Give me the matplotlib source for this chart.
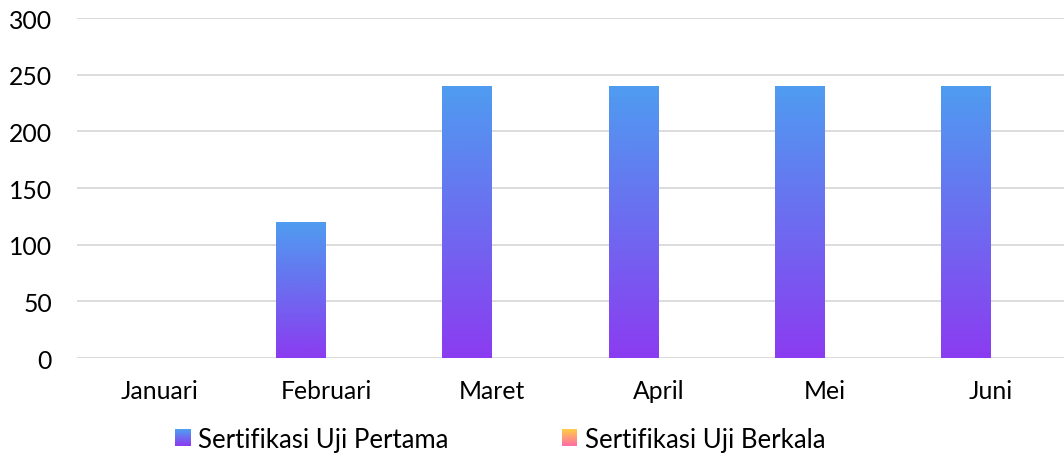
import numpy as np
import matplotlib.pyplot as plt
from matplotlib.colors import LinearSegmentedColormap, to_rgb
from matplotlib.patches import Rectangle
from matplotlib.legend_handler import HandlerBase

plt.rcParams['font.family'] = ['Lato', 'DejaVu Sans']

# data
bulan = ['Januari', 'Februari', 'Maret', 'April', 'Mei', 'Juni']
uji_pertama = [0, 120, 240, 240, 240, 240]
uji_berkala = [0, 0, 0, 0, 0, 0]
label_seri = ['Sertifikasi Uji Pertama', 'Sertifikasi Uji Berkala']
yticks = [0, 50, 100, 150, 200, 250, 300]

# warna gradien (atas, bawah)
grad_pertama = ('#4f9cf0', '#8b3cf0')
grad_berkala = ('#ffc94a', '#ff6fa3')


def isi_gradien(ax, bars, warna):
    # gambar gradien vertikal di dalam tiap batang
    cmap = LinearSegmentedColormap.from_list('g', [warna[1], warna[0]])
    grad = np.linspace(0, 1, 256).reshape(-1, 1)
    for b in bars:
        b.set_facecolor('none')
        h = b.get_height()
        if h <= 0:
            continue
        x0 = b.get_x()
        im = ax.imshow(grad, cmap=cmap, origin='lower', aspect='auto',
                       extent=[x0, x0 + b.get_width(), 0, h], zorder=3)
        im.set_clip_path(b)


class HandlerGradien(HandlerBase):
    def __init__(self, warna, n=30):
        super().__init__()
        self.warna = warna
        self.n = n

    def create_artists(self, legend, orig_handle, xdescent, ydescent,
                       width, height, fontsize, trans):
        atas = np.array(to_rgb(self.warna[0]))
        bawah = np.array(to_rgb(self.warna[1]))
        artists = []
        dh = height / self.n
        for i in range(self.n):
            t = i / (self.n - 1)
            c = bawah * (1 - t) + atas * t
            r = Rectangle((-xdescent, -ydescent + i * dh), width, dh * 1.05,
                          facecolor=c, edgecolor='none', transform=trans)
            artists.append(r)
        return artists


fig = plt.figure(figsize=(10.64, 4.56), dpi=100)
# area plot sedikit melewati tepi kanan gambar, seperti aslinya
ax = fig.add_axes([0.0723, 0.2127, 0.937, 0.7456])

x = np.arange(len(bulan))
lebar = 0.3
bar1 = ax.bar(x - lebar / 2, uji_pertama, lebar, zorder=3)
bar2 = ax.bar(x + lebar / 2, uji_berkala, lebar, zorder=3)
isi_gradien(ax, bar1, grad_pertama)
isi_gradien(ax, bar2, grad_berkala)

ax.set_xlim(-0.5, len(bulan) - 0.5)
ax.set_ylim(0, 300)
ax.set_yticks(yticks)
ax.set_xticks(x)
ax.set_xticklabels(bulan)
ax.tick_params(axis='both', length=0, labelsize=17.8, labelcolor='#000000')
ax.tick_params(axis='y', pad=18)
ax.tick_params(axis='x', pad=15)
ax.grid(axis='y', color='#d9d9d9', linewidth=1.3, zorder=0)
for s in ax.spines.values():
    s.set_visible(False)

h1 = Rectangle((0, 0), 1, 1)
h2 = Rectangle((0, 0), 1, 1)
fig.legend([h1, h2], label_seri, loc='center left',
           bbox_to_anchor=(0.155, 0.035), ncol=2, frameon=False,
           fontsize=18.5, handlelength=0.6, handleheight=0.6,
           handletextpad=0.3, columnspacing=4.4, borderaxespad=0,
           handler_map={h1: HandlerGradien(grad_pertama),
                        h2: HandlerGradien(grad_berkala)})

fig.savefig('out.png', dpi=100)
